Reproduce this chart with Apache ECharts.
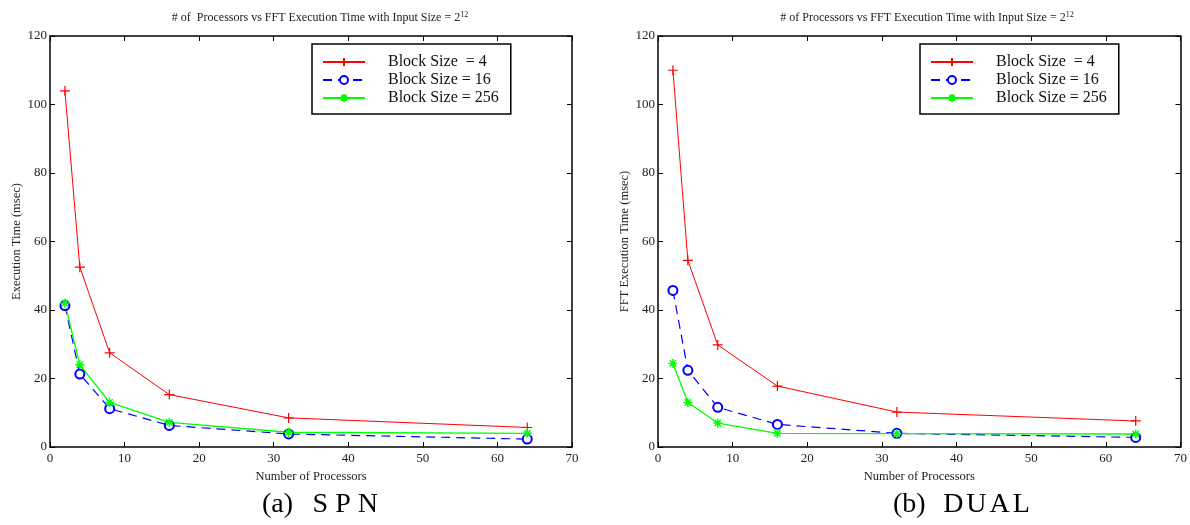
<!DOCTYPE html>
<html><head><meta charset="utf-8">
<script src="https://cdn.jsdelivr.net/npm/echarts@6/dist/echarts.min.js"></script>
<style>html,body{margin:0;padding:0;background:#fff}#c{width:1190px;height:525px}</style>
</head><body><div id="c"></div>
<script>
const processors = [2, 4, 8, 16, 32, 64];
const seriesNames = ['Block Size  = 4', 'Block Size = 16', 'Block Size = 256'];
const spnBlock4 = [104, 52.5, 27.5, 15.3, 8.5, 5.7];
const spnBlock16 = [41.3, 21.3, 11.2, 6.3, 3.8, 2.3];
const spnBlock256 = [42, 24, 13, 7.2, 4.3, 4.0];
const dualBlock4 = [110, 54.5, 29.8, 17.8, 10.2, 7.6];
const dualBlock16 = [45.7, 22.4, 11.6, 6.6, 4.0, 2.8];
const dualBlock256 = [24.4, 13, 7, 4.0, 3.9, 3.8];
const xTicks = [0, 10, 20, 30, 40, 50, 60, 70];
const yTicks = [0, 20, 40, 60, 80, 100, 120];
const titles = ['# of  Processors vs FFT Execution Time with Input Size = 2', '# of Processors vs FFT Execution Time with Input Size = 2'];
const yNames = ['Execution Time (msec)', 'FFT Execution Time (msec)'];
const xName = 'Number of Processors';
const captionTags = ['(a)', '(b)'];
const captionWords = ['SPN', 'DUAL'];

const FONT = '"Liberation Serif", "DejaVu Serif", serif';
const RED = '#ff0000', BLUE = '#0000ff', GREEN = '#00ff00';
const plusSym = 'path://M0,5L10,5M5,0L5,10';
const starSym = 'path://M0,5L10,5M5,0L5,10M1.5,1.5L8.5,8.5M1.5,8.5L8.5,1.5';

const grids = [
  {left: 50, right: 618, top: 36, bottom: 78},
  {left: 658, right: 9, top: 36, bottom: 78}
];
const xAxes = [], yAxes = [];
grids.forEach((g, i) => {
  const common = {
    min: 0, max: 70, interval: 10, type: 'value', gridIndex: i,
    axisLine: {show: true, onZero: false, lineStyle: {color: '#000', width: 1.5}},
    axisTick: {show: true, inside: true, length: 5, lineStyle: {color: '#000', width: 1}},
    splitLine: {show: false}
  };
  xAxes.push(Object.assign({}, common, {
    position: 'bottom',
    name: xName, nameLocation: 'middle', nameGap: 19,
    nameTextStyle: {fontFamily: FONT, fontSize: 12.5, color: '#222'},
    axisLabel: {fontFamily: FONT, fontSize: 13, color: '#222', margin: 5,
      formatter: v => xTicks.includes(v) ? String(v) : ''}
  }));
  xAxes.push(Object.assign({}, common, {position: 'top', axisLabel: {show: false}}));
  const ycommon = {
    min: 0, max: 120, interval: 20, type: 'value', gridIndex: i,
    axisLine: {show: true, onZero: false, lineStyle: {color: '#000', width: 1.5}},
    axisTick: {show: true, inside: true, length: 5, lineStyle: {color: '#000', width: 1}},
    splitLine: {show: false}
  };
  yAxes.push(Object.assign({}, ycommon, {
    position: 'left',
    name: yNames[i], nameLocation: 'middle', nameGap: 27,
    nameTextStyle: {fontFamily: FONT, fontSize: 12.5, color: '#222'},
    axisLabel: {fontFamily: FONT, fontSize: 13, color: '#222', margin: 3,
      formatter: v => yTicks.includes(v) ? String(v) : ''}
  }));
  yAxes.push(Object.assign({}, ycommon, {position: 'right', axisLabel: {show: false}}));
});

function pairs(ys) { return processors.map((x, k) => [x, ys[k]]); }
function mk(name, data, gi, kind) {
  const s = {
    name: name, type: 'line', xAxisIndex: gi * 2, yAxisIndex: gi * 2,
    data: pairs(data), animation: false, z: 3
  };
  if (kind === 0) {
    Object.assign(s, {symbol: plusSym, symbolSize: 10,
      lineStyle: {color: RED, width: 1},
      itemStyle: {color: RED, borderColor: RED, borderWidth: 1.2}});
  } else if (kind === 1) {
    Object.assign(s, {symbol: 'emptyCircle', symbolSize: 9,
      lineStyle: {color: BLUE, width: 1.2, type: [9, 6]},
      itemStyle: {color: BLUE, borderColor: BLUE, borderWidth: 1.2}});
  } else {
    Object.assign(s, {symbol: starSym, symbolSize: 9,
      lineStyle: {color: GREEN, width: 1.3},
      itemStyle: {color: GREEN, borderColor: GREEN, borderWidth: 1.5}});
  }
  return s;
}
const series = [
  mk(seriesNames[0], spnBlock4, 0, 0), mk(seriesNames[1], spnBlock16, 0, 1), mk(seriesNames[2], spnBlock256, 0, 2),
  mk(seriesNames[0], dualBlock4, 1, 0), mk(seriesNames[1], dualBlock16, 1, 1), mk(seriesNames[2], dualBlock256, 1, 2)
];

function legendFor(left) {
  return {
    show: true, orient: 'vertical', left: left, top: 44,
    data: seriesNames, selectedMode: false,
    borderColor: '#000', borderWidth: 1.5, backgroundColor: '#fff',
    padding: [10, 12, 8, 10], itemGap: 2, itemWidth: 42, itemHeight: 10,
    textStyle: {fontFamily: FONT, fontSize: 16, lineHeight: 16, color: '#111', padding: [0, 0, 0, 18]}
  };
}

const titleStyle = {fontFamily: FONT, fontSize: 12, fontWeight: 'normal', color: '#222',
  rich: {s: {fontFamily: FONT, fontSize: 8, verticalAlign: 'top', color: '#222', padding: [0, 0, 6, 0]}}};
const capRich = {
  t: {fontFamily: FONT, fontSize: 28, color: '#111', padding: [0, 16, 0, 0]},
  a: {fontFamily: FONT, fontSize: 28, color: '#111', padding: [0, 3.5, 0, 3.5]},
  b: {fontFamily: FONT, fontSize: 28, color: '#111', padding: [0, 1.5, 0, 1.5]}
};
function capText(i) {
  const st = i === 0 ? 'a' : 'b';
  return '{t|' + captionTags[i] + '}' + captionWords[i].split('').map(c => '{' + st + '|' + c + '}').join('');
}

const option = {
  animation: false,
  backgroundColor: '#fff',
  grid: grids.map(g => Object.assign({containLabel: false}, g)),
  title: [
    {text: titles[0] + '{s|12}', left: 315, top: 6, textAlign: 'center', textStyle: titleStyle},
    {text: titles[1] + '{s|12}', left: 922, top: 6, textAlign: 'center', textStyle: titleStyle}
  ],
  legend: [legendFor(312), legendFor(920)],
  xAxis: xAxes, yAxis: yAxes, series: series,
  graphic: [
    {type: 'text', left: 262, top: 491, style: {text: capText(0), rich: capRich}},
    {type: 'text', left: 893, top: 491, style: {text: capText(1), rich: capRich}}
  ]
};
const chart = echarts.init(document.getElementById('c'), null, {renderer: 'canvas'});
chart.setOption(option);
</script></body></html>
